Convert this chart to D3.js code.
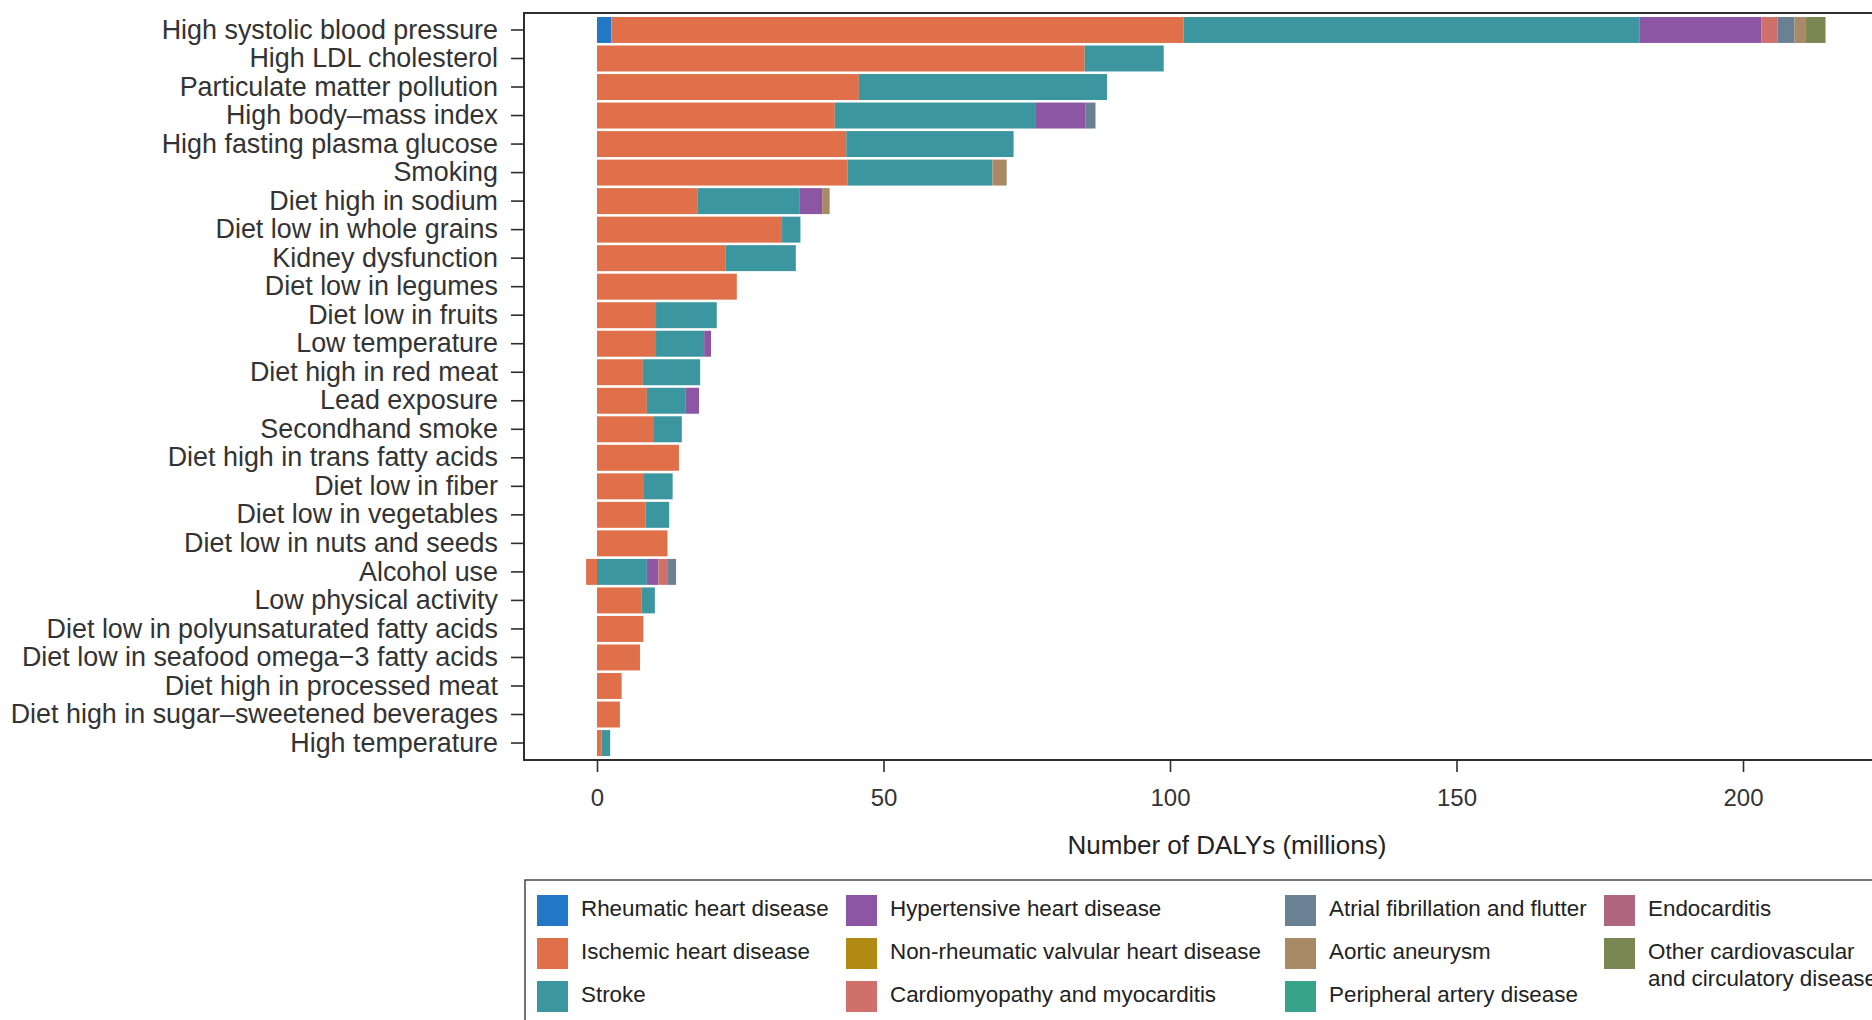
<!DOCTYPE html>
<html><head><meta charset="utf-8">
<script src="https://cdn.jsdelivr.net/npm/d3@7"></script>
<style>
html,body{margin:0;padding:0;background:#fff;}
svg{display:block;font-family:"Liberation Sans",Arial,Helvetica,sans-serif;}
</style></head>
<body><svg id="chart" width="1872" height="1020"></svg>
<script>
const categories = ["High systolic blood pressure","High LDL cholesterol","Particulate matter pollution","High body\u2013mass index","High fasting plasma glucose","Smoking","Diet high in sodium","Diet low in whole grains","Kidney dysfunction","Diet low in legumes","Diet low in fruits","Low temperature","Diet high in red meat","Lead exposure","Secondhand smoke","Diet high in trans fatty acids","Diet low in fiber","Diet low in vegetables","Diet low in nuts and seeds","Alcohol use","Low physical activity","Diet low in polyunsaturated fatty acids","Diet low in seafood omega\u22123 fatty acids","Diet high in processed meat","Diet high in sugar\u2013sweetened beverages","High temperature"];

const seriesNames = ["Rheumatic heart disease","Ischemic heart disease","Stroke","Hypertensive heart disease","Non-rheumatic valvular heart disease","Cardiomyopathy and myocarditis","Atrial fibrillation and flutter","Aortic aneurysm","Peripheral artery disease","Endocarditis","Other cardiovascular and circulatory diseases"];
const seriesColors = ["#2277c6","#e07049","#3c96a0","#8c56a5","#b08a12","#d0706a","#6a8193","#a88a66","#37a38a","#b0667f","#7b8753"];

const rheumatic      = [2.5,0,0,0,0,0,0,0,0,0,0,0,0,0,0,0,0,0,0,0,0,0,0,0,0,0];
const ischemic       = [99.9,85.1,45.7,41.5,43.5,43.7,17.6,32.3,22.4,24.4,10.3,10.3,8.0,8.7,9.8,14.3,8.2,8.5,12.3,-1.9,7.8,8.1,7.5,4.3,4.0,0.8];
const stroke         = [79.5,13.8,43.3,35.1,29.2,25.3,17.8,3.2,12.3,0,10.6,8.4,10.0,6.8,5.0,0,5.0,4.1,0,8.7,2.3,0,0,0,0,1.5];
const hypertensive   = [21.3,0,0,8.6,0,0,3.9,0,0,0,0,1.2,0,2.3,0,0,0,0,0,2.0,0,0,0,0,0,0];
const valvular       = [0,0,0,0,0,0,0,0,0,0,0,0,0,0,0,0,0,0,0,0,0,0,0,0,0,0];
const cardiomyopathy = [2.8,0,0,0,0,0,0,0,0,0,0,0,0,0,0,0,0,0,0,1.7,0,0,0,0,0,0];
const atrialFib      = [3.0,0,0,1.8,0,0,0,0,0,0,0,0,0,0,0,0,0,0,0,1.4,0,0,0,0,0,0];
const aortic         = [2.0,0,0,0,0,2.5,1.3,0,0,0,0,0,0,0,0,0,0,0,0,0,0,0,0,0,0,0];
const peripheral     = [0,0,0,0,0,0,0,0,0,0,0,0,0,0,0,0,0,0,0,0,0,0,0,0,0,0];
const endocarditis   = [0,0,0,0,0,0,0,0,0,0,0,0,0,0,0,0,0,0,0,0,0,0,0,0,0,0];
const otherCVD       = [3.4,0,0,0,0,0,0,0,0,0,0,0,0,0,0,0,0,0,0,0,0,0,0,0,0,0];

const xTicks = [0,50,100,150,200];
const xTitle = "Number of DALYs (millions)";

const seriesValues = [rheumatic,ischemic,stroke,hypertensive,valvular,cardiomyopathy,atrialFib,aortic,peripheral,endocarditis,otherCVD];

const rows = categories.map((c,i)=>{
  const r = {cat:c};
  seriesNames.forEach((s,j)=>{ r[s] = seriesValues[j][i]; });
  return r;
});

const svg = d3.select("#chart");
const plotL = 524, plotT = 13, plotB = 760, plotR = 1930;
const x = d3.scaleLinear().domain([0,200]).range([597,1743]);
const y = d3.scaleBand().domain(categories).range([plotT,plotB]).paddingInner(0.09).paddingOuter(0.14);
const color = d3.scaleOrdinal().domain(seriesNames).range(seriesColors);

const stacked = d3.stack().keys(seriesNames).offset(d3.stackOffsetDiverging)(rows);

svg.append("g").selectAll("g").data(stacked).join("g")
  .attr("fill", d=>color(d.key))
  .selectAll("rect").data(d=>d).join("rect")
  .attr("x", d=>x(Math.min(d[0],d[1])))
  .attr("width", d=>Math.abs(x(d[1])-x(d[0])))
  .attr("y", d=>y(d.data.cat))
  .attr("height", y.bandwidth());

// frame
const frameColor = "#2e2e2e";
svg.append("path")
  .attr("d", `M${plotR},${plotT}H${plotL}V${plotB}H${plotR}`)
  .attr("fill","none").attr("stroke",frameColor).attr("stroke-width",2);

// y axis
const yAxis = d3.axisLeft(y).tickSize(13).tickPadding(13);
const gy = svg.append("g").attr("transform",`translate(${plotL},0)`).call(yAxis);
gy.select(".domain").remove();
gy.selectAll(".tick line").attr("stroke",frameColor).attr("stroke-width",1.6);
gy.selectAll(".tick text").attr("font-size",26.9).attr("fill","#333").attr("font-family","Liberation Sans, Arial, sans-serif");

// x axis
const xAxis = d3.axisBottom(x).tickValues(xTicks).tickSize(12).tickPadding(17).tickFormat(d3.format("d"));
const gx = svg.append("g").attr("transform",`translate(0,${plotB})`).call(xAxis);
gx.select(".domain").remove();
gx.selectAll(".tick line").attr("stroke",frameColor).attr("stroke-width",1.6);
gx.selectAll(".tick text").attr("font-size",24).attr("fill","#333").attr("font-family","Liberation Sans, Arial, sans-serif");

svg.append("text").attr("x",(plotL+plotR)/2).attr("y",854)
  .attr("text-anchor","middle").attr("font-size",26).attr("fill","#222").text(xTitle);

// legend
svg.append("rect").attr("x",525).attr("y",880).attr("width",1400).attr("height",200)
  .attr("fill","none").attr("stroke","#444").attr("stroke-width",1.5);
const colX = [537,846,1285,1604];
const rowY = [895,938,981];
const legendLayout = [[0,0],[0,1],[0,2],[1,0],[1,1],[1,2],[2,0],[2,1],[2,2],[3,0],[3,1]];
const lg = svg.append("g").selectAll("g").data(seriesNames).join("g")
  .attr("transform",(d,i)=>`translate(${colX[legendLayout[i][0]]},${rowY[legendLayout[i][1]]})`);
lg.append("rect").attr("width",31).attr("height",31).attr("fill",d=>color(d));
lg.each(function(d){
  const g = d3.select(this);
  const t = g.append("text").attr("x",44).attr("font-size",22.4).attr("fill","#222");
  if (d.startsWith("Other cardiovascular")) {
    t.append("tspan").attr("x",44).attr("y",13).attr("dy","0.35em").text("Other cardiovascular");
    t.append("tspan").attr("x",44).attr("y",40).attr("dy","0.35em").text("and circulatory diseases");
  } else {
    t.attr("y",13).attr("dy","0.35em").text(d);
  }
});
</script></body></html>
